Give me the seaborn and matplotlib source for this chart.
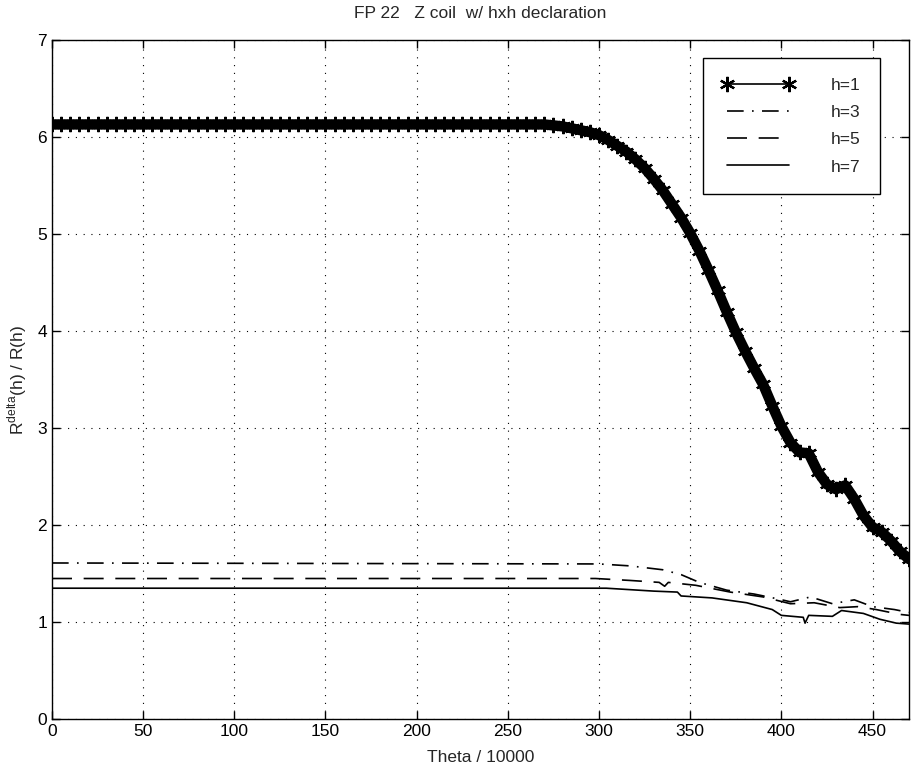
import numpy as np
import pandas as pd
import matplotlib
matplotlib.use("Agg")
import matplotlib.pyplot as plt
import seaborn as sns

# h=1 : une valeur lue tous les 5 (theta 0..470), plat a 6.13 jusqu'a 270
theta_h1 = list(range(0, 475, 5))
r_h1 = [6.13] * 55 + [
    6.12, 6.11, 6.09, 6.07, 6.05, 6.02, 5.97, 5.91, 5.85, 5.77,
    5.68, 5.57, 5.45, 5.31, 5.17, 5.01, 4.83, 4.63, 4.42, 4.20,
    3.99, 3.80, 3.62, 3.45, 3.23, 3.02, 2.85, 2.75, 2.74, 2.55,
    2.42, 2.37, 2.41, 2.27, 2.10, 1.98, 1.93, 1.84, 1.73, 1.65]

# h=3, h=5, h=7 : points
theta_h3 = [0, 300, 317, 335, 345, 355, 370, 385, 398, 405, 416, 428, 440, 450, 462, 470]
r_h3 = [1.61, 1.60, 1.58, 1.54, 1.49, 1.41, 1.33, 1.29, 1.24, 1.21, 1.26, 1.19, 1.23, 1.16, 1.13, 1.10]

theta_h5 = [0, 298, 317, 333, 336, 338, 353, 372, 390, 405, 418, 432, 442, 452, 465, 470]
r_h5 = [1.45, 1.45, 1.43, 1.41, 1.37, 1.41, 1.38, 1.31, 1.26, 1.19, 1.20, 1.15, 1.16, 1.13, 1.08, 1.07]

theta_h7 = [0, 304, 330, 343, 345, 362, 381, 395, 400, 412, 413, 415, 428, 433, 445, 454, 463, 470]
r_h7 = [1.35, 1.35, 1.32, 1.31, 1.27, 1.25, 1.20, 1.13, 1.07, 1.05, 0.99, 1.07, 1.06, 1.12, 1.09, 1.03, 0.99, 0.98]

x_ticks = list(range(0, 451, 50))
y_ticks = list(range(0, 8))

sns.set_style("ticks")
plt.rcParams['font.family'] = ['Liberation Sans', 'DejaVu Sans']
plt.rcParams['mathtext.fontset'] = 'custom'
plt.rcParams['mathtext.rm'] = 'Liberation Sans'

fig, ax = plt.subplots(figsize=(9.12, 7.7), dpi=100)
fig.subplots_adjust(left=0.057, right=0.9967, bottom=0.066, top=0.948)

# bande epaisse sous les marqueurs (les '*' se chevauchent dans l'original)
sns.lineplot(x=theta_h1, y=r_h1, ax=ax, color='k', lw=7.5, sort=False, estimator=None,
             legend=False)
sns.lineplot(x=theta_h1, y=r_h1, ax=ax, color='k', lw=1.2, sort=False, estimator=None,
             marker=(6, 2, 0), markersize=11, markeredgecolor='k', markeredgewidth=1.6,
             label='h=1')
sns.lineplot(x=theta_h3, y=r_h3, ax=ax, color='k', lw=1.2, sort=False, estimator=None,
             linestyle=(0, (10, 5, 1, 5)), label='h=3')
sns.lineplot(x=theta_h5, y=r_h5, ax=ax, color='k', lw=1.2, sort=False, estimator=None,
             linestyle=(0, (12, 7)), label='h=5')
sns.lineplot(x=theta_h7, y=r_h7, ax=ax, color='k', lw=1.2, sort=False, estimator=None,
             label='h=7')

ax.set_xlim(0, 470)
ax.set_ylim(0, 7)
ax.set_xticks(x_ticks)
ax.set_yticks(y_ticks)
ax.grid(True, color='k', linestyle=(0, (1, 6)), linewidth=0.8)
ax.tick_params(direction='in', length=6, width=1, top=True, right=True,
               labelsize=12.5, colors='k')
for sp in ax.spines.values():
    sp.set_visible(True)
    sp.set_linewidth(1)
    sp.set_color('k')

ax.set_title('FP 22   Z coil  w/ hxh declaration', fontsize=12.5, pad=16)
ax.set_xlabel('Theta / 10000', fontsize=12.5, labelpad=8)
ax.set_ylabel(r'R$^{\rm delta}$(h) / R(h)', fontsize=12.5, labelpad=6)

leg = ax.legend(loc='upper right', bbox_to_anchor=(0.966, 0.973), fontsize=12.5,
                frameon=True, fancybox=False, framealpha=1, edgecolor='k',
                handlelength=4.2, handletextpad=2.1, borderpad=1.1,
                labelspacing=0.7, numpoints=2, borderaxespad=0)
leg.get_frame().set_linewidth(1)

fig.savefig('out.png', dpi=100)
